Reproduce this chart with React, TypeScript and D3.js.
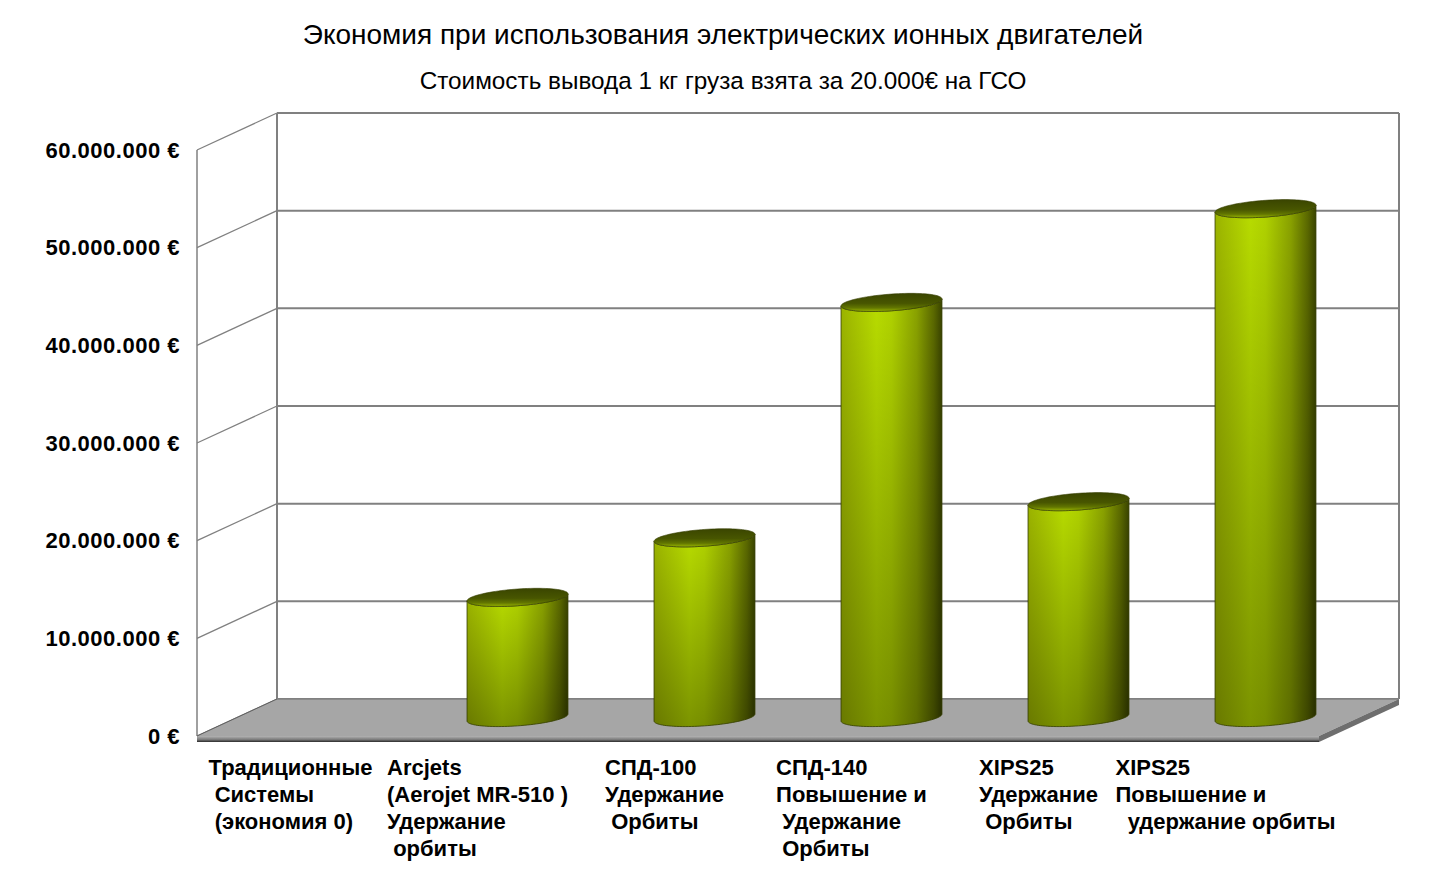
import { useEffect, useRef } from 'react';
import * as d3 from 'd3';

const title = 'Экономия при использования электрических ионных двигателей';
const subtitle = 'Стоимость вывода 1 кг груза взята за 20.000€ на ГСО';

const categories = ['trad', 'arcjet', 'spd100', 'spd140', 'xipsHold', 'xipsRaise'];
const categoryLabels = [
  ['Традиционные', ' Системы', ' (экономия 0)'],
  ['Arcjets', '(Aerojet MR-510 )', 'Удержание', ' орбиты'],
  ['СПД-100', 'Удержание', ' Орбиты'],
  ['СПД-140', 'Повышение и', ' Удержание', ' Орбиты'],
  ['XIPS25', 'Удержание', ' Орбиты'],
  ['XIPS25', 'Повышение и', '  удержание орбиты'],
];
const savings = [0, 12300000, 18400000, 42500000, 22100000, 52100000];
const yTicks = [0, 10000000, 20000000, 30000000, 40000000, 50000000, 60000000];

const W = 1446;
const H = 878;
const frontLeft = 197;
const frontRight = 1319;
const floorY = 736;
const topY = 150;
const DX = 80; // full depth offset
const DY = -37;
const floorThick = 6;
const font = "'Liberation Sans', Arial, sans-serif";

const euro = d3.formatLocale({ decimal: ',', thousands: '.', grouping: [3], currency: ['', ' €'] }).format('$,');

const x = d3.scaleBand<string>().domain(categories).range([frontLeft, frontRight]);
const y = d3.scaleLinear().domain([0, 60000000]).range([floorY, topY]);

const radius = 46.5;
const rdx = 0.245 * DX;
const rdy = 0.245 * -DY;
const t0 = Math.atan2(rdx, radius);

const ellipsePt = (cx: number, cy: number, t: number): [number, number] => [
  cx + radius * Math.cos(t) + rdx * Math.sin(t),
  cy - rdy * Math.sin(t),
];

const line = d3.line();

function cylinderPaths(cat: string, v: number) {
  const cx = x(cat)! + x.bandwidth() / 2 + DX * 0.5;
  const cyTop = y(v) + DY * 0.5;
  const cyBot = y(0) + DY * 0.5;
  const steps = d3.range(0, 49).map((i) => t0 + Math.PI + (Math.PI * i) / 48);
  const bottomArc = steps.map((t) => ellipsePt(cx, cyBot, t));
  const topArc = steps.slice().reverse().map((t) => ellipsePt(cx, cyTop, t));
  const body = line([...bottomArc, ...topArc])! + 'Z';
  const full = d3.range(0, 97).map((i) => ellipsePt(cx, cyTop, (Math.PI * 2 * i) / 96));
  const top = line(full)! + 'Z';
  return { body, top };
}

function CategoryLabels() {
  const ref = useRef<SVGGElement>(null);
  useEffect(() => {
    const g = d3.select(ref.current);
    g.selectAll('*').remove();
    categoryLabels.forEach((lines, i) => {
      const text = g
        .append('text')
        .attr('font-family', font)
        .attr('font-weight', 'bold')
        .attr('font-size', 22)
        .attr('fill', '#000')
        .style('white-space', 'pre');
      lines.forEach((ln, j) => {
        text.append('tspan').attr('y', 775 + j * 27).text(ln);
      });
      let maxW = 0;
      text.selectAll<SVGTSpanElement, unknown>('tspan').each(function () {
        maxW = Math.max(maxW, this.getComputedTextLength());
      });
      const cx = x(categories[i])! + x.bandwidth() / 2;
      text.selectAll('tspan').attr('x', cx - maxW / 2);
    });
  }, []);
  return <g ref={ref} />;
}

export default function App() {
  useEffect(() => {
    document.body.style.margin = '0';
  }, []);

  const backL = frontLeft + DX;
  const backR = frontRight + DX;

  return (
    <svg width={W} height={H} style={{ display: 'block', background: '#fff' }}>
      <defs>
        <linearGradient id="cylH" x1="0" x2="1" y1="0" y2="0">
          <stop offset="0" stopColor="#9cb400" />
          <stop offset="0.35" stopColor="#b8dc00" />
          <stop offset="0.5" stopColor="#b0d200" />
          <stop offset="0.75" stopColor="#8aa200" />
          <stop offset="0.92" stopColor="#5a6800" />
          <stop offset="1" stopColor="#3a4400" />
        </linearGradient>
        <linearGradient id="cylV" x1="0" x2="0" y1="0" y2="1">
          <stop offset="0" stopColor="#000" stopOpacity="0" />
          <stop offset="1" stopColor="#000" stopOpacity="0.33" />
        </linearGradient>
        <linearGradient id="cylTop" x1="0" x2="0" y1="0" y2="1">
          <stop offset="0" stopColor="#3a4500" />
          <stop offset="0.55" stopColor="#485600" />
          <stop offset="0.8" stopColor="#627600" />
          <stop offset="1" stopColor="#98b400" />
        </linearGradient>
        <linearGradient id="floorFront" x1="0" x2="0" y1="0" y2="1">
          <stop offset="0" stopColor="#b4b4b4" />
          <stop offset="0.6" stopColor="#7a7a7a" />
          <stop offset="1" stopColor="#2a2a2a" />
        </linearGradient>
      </defs>

      <text x={723} y={44} textAnchor="middle" fontFamily={font} fontSize={28} fill="#000">
        {title}
      </text>
      <text x={723} y={89} textAnchor="middle" fontFamily={font} fontSize={24.3} fill="#000">
        {subtitle}
      </text>

      {/* side wall gridlines */}
      {yTicks.map((t) => (
        <line
          key={'s' + t}
          x1={frontLeft}
          y1={y(t)}
          x2={backL}
          y2={y(t) + DY}
          stroke="#808080"
          strokeWidth={1.3}
        />
      ))}
      {/* back wall gridlines */}
      {yTicks.map((t) => (
        <line key={'b' + t} x1={backL} y1={y(t) + DY} x2={backR} y2={y(t) + DY} stroke="#808080" strokeWidth={2} />
      ))}
      <line x1={frontLeft} y1={y(0)} x2={frontLeft} y2={y(60000000)} stroke="#808080" strokeWidth={1.5} />
      <line x1={backL} y1={y(0) + DY} x2={backL} y2={y(60000000) + DY} stroke="#808080" strokeWidth={2} />
      <line x1={backR} y1={y(0) + DY} x2={backR} y2={y(60000000) + DY} stroke="#808080" strokeWidth={2} />

      {/* floor */}
      <path
        d={`M${frontLeft},${floorY}L${backL},${floorY + DY}L${backR},${floorY + DY}L${frontRight},${floorY}Z`}
        fill="#a6a6a6"
      />
      <path
        d={`M${frontLeft},${floorY}L${frontRight},${floorY}L${frontRight},${floorY + floorThick}L${frontLeft},${floorY + floorThick}Z`}
        fill="url(#floorFront)"
      />
      <path
        d={`M${frontRight},${floorY}L${backR},${floorY + DY}L${backR},${floorY + DY + floorThick}L${frontRight},${floorY + floorThick}Z`}
        fill="#6e6e6e"
      />
      <line x1={frontLeft} y1={floorY} x2={backL} y2={floorY + DY} stroke="#606060" strokeWidth={1} />
      <line x1={backL} y1={floorY + DY} x2={backR} y2={floorY + DY} stroke="#808080" strokeWidth={1.5} />

      {/* cylinders */}
      {categories.map((c, i) => {
        if (savings[i] <= 0) return null;
        const { body, top } = cylinderPaths(c, savings[i]);
        return (
          <g key={c}>
            <path d={body} fill="url(#cylH)" />
            <path d={body} fill="url(#cylV)" stroke="#343c00" strokeWidth={0.8} />
            <path d={top} fill="url(#cylTop)" stroke="#343c00" strokeWidth={0.6} />
          </g>
        );
      })}

      {/* y axis labels */}
      {yTicks.map((t) => (
        <text
          key={'l' + t}
          x={180}
          y={y(t)}
          dy="0.35em"
          textAnchor="end"
          fontFamily={font}
          fontWeight="bold"
          fontSize={22}
          letterSpacing={0.5}
          fill="#000"
        >
          {euro(t)}
        </text>
      ))}

      <CategoryLabels />
    </svg>
  );
}
